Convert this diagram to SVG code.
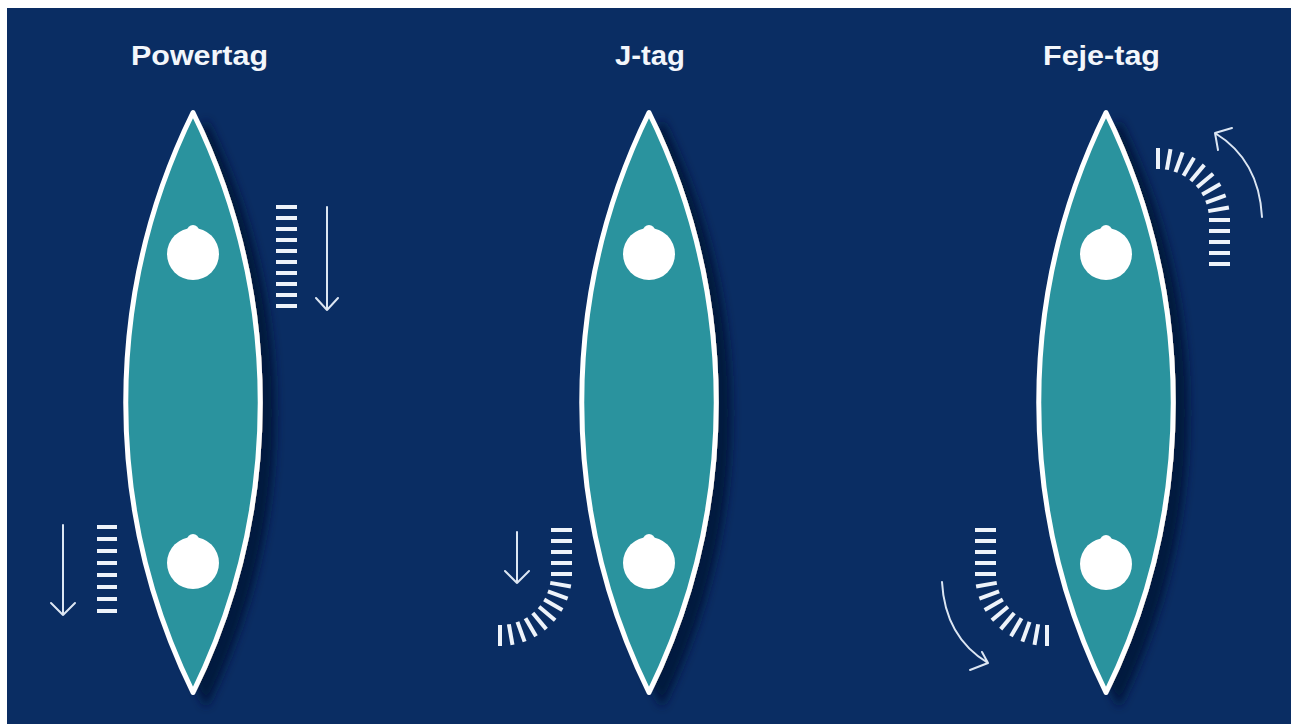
<svg xmlns="http://www.w3.org/2000/svg" width="1291" height="724" viewBox="0 0 1291 724">
  <defs>
    <filter id="shadow" x="-30%" y="-10%" width="160%" height="130%">
      <feGaussianBlur in="SourceAlpha" stdDeviation="5"/>
      <feOffset dx="13" dy="11" result="b"/>
      <feFlood flood-color="#03163a" flood-opacity="0.9"/>
      <feComposite in2="b" operator="in"/>
      <feMerge><feMergeNode/><feMergeNode in="SourceGraphic"/></feMerge>
    </filter>
    <path id="hull" d="M0,112.5 A659,659 0 0 1 0,692.5 A659,659 0 0 1 0,112.5 Z"/>
    <g id="seat">
      <circle cx="0" cy="0" r="26"/>
      <circle cx="0" cy="-23" r="6"/>
    </g>
    <g id="curveTicks">
      <line x1="51" y1="-44" x2="72" y2="-44"/>
      <line x1="51" y1="-33" x2="72" y2="-33"/>
      <line x1="51" y1="-22" x2="72" y2="-22"/>
      <line x1="51" y1="-11" x2="72" y2="-11"/>
      <line x1="51" y1="0" x2="72" y2="0"/>
      <line x1="51" y1="0" x2="72" y2="0" transform="rotate(10)"/>
      <line x1="51" y1="0" x2="72" y2="0" transform="rotate(20)"/>
      <line x1="51" y1="0" x2="72" y2="0" transform="rotate(30)"/>
      <line x1="51" y1="0" x2="72" y2="0" transform="rotate(40)"/>
      <line x1="51" y1="0" x2="72" y2="0" transform="rotate(50)"/>
      <line x1="51" y1="0" x2="72" y2="0" transform="rotate(60)"/>
      <line x1="51" y1="0" x2="72" y2="0" transform="rotate(70)"/>
      <line x1="51" y1="0" x2="72" y2="0" transform="rotate(80)"/>
      <line x1="51" y1="0" x2="72" y2="0" transform="rotate(90)"/>
    </g>
  </defs>
  <style>
    .bg { fill: #0a2d63; }
    .hull { fill: #2a939e; stroke: #ffffff; stroke-width: 5; stroke-linejoin: round; }
    .seat { fill: #ffffff; }
    .ticks { stroke: #eef3fa; stroke-width: 4; fill: none; }
    .arrow { stroke: #dce6f3; stroke-width: 2; fill: none; stroke-linecap: round; stroke-linejoin: round; }
    .title { fill: #f3f6fb; font-family: "Liberation Sans", Arial, sans-serif; font-weight: bold; font-size: 27px; }
  </style>
  <rect x="0" y="0" width="1291" height="724" fill="#ffffff"/>
  <rect class="bg" x="7" y="8" width="1284" height="716"/>

  <g id="powertag">
    <text class="title" x="131" y="65" textLength="137" lengthAdjust="spacingAndGlyphs">Powertag</text>
    <use href="#hull" x="193" class="hull" filter="url(#shadow)"/>
    <use href="#seat" x="193" y="254" class="seat"/>
    <use href="#seat" x="193" y="563" class="seat"/>
  </g>

  <g id="jtag">
    <text class="title" x="615" y="65" textLength="70" lengthAdjust="spacingAndGlyphs">J-tag</text>
    <use href="#hull" x="649" class="hull" filter="url(#shadow)"/>
    <use href="#seat" x="649" y="254" class="seat"/>
    <use href="#seat" x="649" y="563" class="seat"/>
  </g>

  <g id="fejetag">
    <text class="title" x="1043" y="65" textLength="117" lengthAdjust="spacingAndGlyphs">Feje-tag</text>
    <use href="#hull" x="1106" class="hull" filter="url(#shadow)"/>
    <use href="#seat" x="1106" y="254" class="seat"/>
    <use href="#seat" x="1106" y="564" class="seat"/>
  </g>

  <g id="connectors">
    <g class="ticks">
      <line x1="276" y1="207" x2="297" y2="207"/>
      <line x1="276" y1="218" x2="297" y2="218"/>
      <line x1="276" y1="229" x2="297" y2="229"/>
      <line x1="276" y1="240" x2="297" y2="240"/>
      <line x1="276" y1="251" x2="297" y2="251"/>
      <line x1="276" y1="262" x2="297" y2="262"/>
      <line x1="276" y1="273" x2="297" y2="273"/>
      <line x1="276" y1="284" x2="297" y2="284"/>
      <line x1="276" y1="295" x2="297" y2="295"/>
      <line x1="276" y1="306" x2="297" y2="306"/>
      <line x1="97" y1="527" x2="117" y2="527"/>
      <line x1="97" y1="539" x2="117" y2="539"/>
      <line x1="97" y1="551" x2="117" y2="551"/>
      <line x1="97" y1="563" x2="117" y2="563"/>
      <line x1="97" y1="575" x2="117" y2="575"/>
      <line x1="97" y1="587" x2="117" y2="587"/>
      <line x1="97" y1="599" x2="117" y2="599"/>
      <line x1="97" y1="611" x2="117" y2="611"/>
    </g>
    <path class="arrow" d="M327,207 V310 M316,298 L327,310 L338,298"/>
    <path class="arrow" d="M63,525 V615 M51,603 L63,615 L75,603"/>

    <use href="#curveTicks" class="ticks" transform="translate(500,574)"/>
    <path class="arrow" d="M517,532 V583 M505,571 L517,583 L529,571"/>

    <use href="#curveTicks" class="ticks" transform="translate(1047,574) scale(-1,1)"/>
    <use href="#curveTicks" class="ticks" transform="translate(1158,220) scale(1,-1)"/>
    <path class="arrow" d="M942,582 Q945,637 988,663 M970,670 L988,663 L982,652"/>
    <path class="arrow" d="M1262,217 Q1259,160 1215,133 M1232,128 L1215,133 L1218,150"/>
  </g>
</svg>
